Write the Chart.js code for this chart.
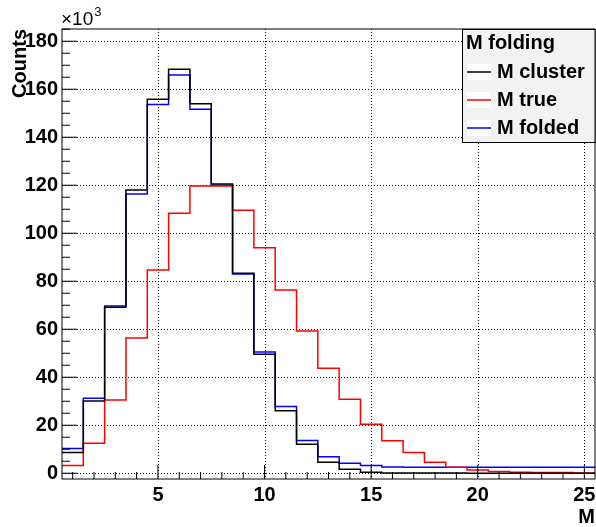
<!DOCTYPE html>
<html>
<head>
<meta charset="utf-8">
<script src="https://cdn.jsdelivr.net/npm/chart.js@4"></script>
<style>
html,body{margin:0;padding:0;background:#fff;}
#wrap{width:596px;height:527px;}
</style>
</head>
<body>
<div id="wrap"><canvas id="c" width="596" height="527"></canvas></div>
<script>
// multiplicity bins (centres), counts in units of 10^3
const bins     = [1,2,3,4,5,6,7,8,9,10,11,12,13,14,15,16,17,18,19,20,21,22,23,24,25];
const mCluster = [8.6,30.1,69.2,118.0,155.8,168.3,154.0,120.5,83.3,49.6,26.0,12.1,4.6,1.7,0.4,0.1,0.1,0.1,0.05,0,0,0,0,0,0];
const mTrue    = [3.2,12.5,30.5,56.4,84.7,108.3,119.7,119.7,109.6,94.0,76.4,59.3,43.7,30.8,20.4,13.5,8.6,4.6,2.5,1.4,0.7,0.4,0.3,0.3,0.1];
const mFolded  = [10.3,31.2,69.7,116.4,153.6,165.9,151.7,120.0,83.0,50.5,27.8,13.6,6.9,4.2,3.2,2.6,2.5,2.5,2.5,2.5,2.5,2.5,2.5,2.5,2.5];

const xTicks = [5,10,15,20,25];
const yTicks = [0,20,40,60,80,100,120,140,160,180];
const xRange = [0.5,25.5];
const yRange = [-2.4,185.1];

const FONT = "'Liberation Sans', Arial, Helvetica, sans-serif";

// histogram outline: one point per low bin edge plus the last upper edge
function steps(vals){
  const pts = bins.map((b,i)=>({x:b-0.5,y:vals[i]}));
  pts.push({x:bins[bins.length-1]+0.5,y:vals[vals.length-1]});
  return pts;
}

const rootFrame = {
  id:'rootFrame',
  beforeDatasetsDraw(chart){
    const {ctx,chartArea:a,scales:{x,y}} = chart;
    ctx.save();
    ctx.strokeStyle='#000'; ctx.lineWidth=1; ctx.setLineDash([1,2]);
    ctx.beginPath();
    xTicks.forEach(v=>{const px=Math.round(x.getPixelForValue(v))+0.5;ctx.moveTo(px,a.top);ctx.lineTo(px,a.bottom);});
    yTicks.forEach(v=>{const py=Math.round(y.getPixelForValue(v))+0.5;ctx.moveTo(a.left,py);ctx.lineTo(a.right,py);});
    ctx.stroke();
    ctx.restore();
  },
  afterDatasetsDraw(chart){
    const {ctx,chartArea:a,scales:{x,y}} = chart;
    ctx.save();
    ctx.strokeStyle='#000'; ctx.lineWidth=1;
    ctx.strokeRect(a.left,a.top,a.right-a.left,a.bottom-a.top);

    // inside tick marks
    ctx.beginPath();
    for(let v=Math.ceil(xRange[0]);v<=xRange[1];v++){
      const px=x.getPixelForValue(v), len=(v%5===0)?14:7;
      ctx.moveTo(px,a.bottom);ctx.lineTo(px,a.bottom-len);
    }
    for(let v=0;v<=yRange[1];v+=5){
      const py=y.getPixelForValue(v), len=(v%20===0)?15:8;
      ctx.moveTo(a.left,py);ctx.lineTo(a.left+len,py);
    }
    ctx.stroke();

    // tick labels
    ctx.fillStyle='#000';
    ctx.font='bold 20px '+FONT;
    ctx.textAlign='right'; ctx.textBaseline='middle';
    yTicks.forEach(v=>ctx.fillText(String(v),a.left-4,y.getPixelForValue(v)));
    ctx.textAlign='center';
    xTicks.forEach(v=>ctx.fillText(String(v),x.getPixelForValue(v),a.bottom+16));

    // axis titles
    ctx.textAlign='right';
    ctx.fillText('M',a.right,a.bottom+38);
    ctx.save();
    ctx.translate(20,a.top);
    ctx.rotate(-Math.PI/2);
    ctx.textAlign='right';
    ctx.fillText('Counts',0,0);
    ctx.restore();

    // exponent
    ctx.font='19px '+FONT;
    ctx.textAlign='left'; ctx.textBaseline='alphabetic';
    ctx.fillText('\u00d710',a.left-1,a.top-4);
    const w=ctx.measureText('\u00d710').width;
    ctx.font='13px '+FONT;
    ctx.fillText('3',a.left+w,a.top-13);

    // legend box
    const lx=462, ly=a.top, lw=a.right-lx, lh=113;
    ctx.fillStyle='#f2f2f2';
    ctx.fillRect(lx,ly,lw,lh);
    ctx.strokeStyle='#000'; ctx.lineWidth=1;
    ctx.strokeRect(lx+0.5,ly+0.5,lw-0.5,lh);
    ctx.fillStyle='#000';
    ctx.font='bold 20px '+FONT;
    ctx.textBaseline='middle';
    ctx.fillText('M folding',lx+4,ly+14);
    chart.data.datasets.forEach((ds,i)=>{
      const cy=ly+43+i*28;
      ctx.fillStyle='#fff';
      ctx.fillRect(lx+5,cy-8,24,16);
      ctx.strokeStyle=ds.borderColor; ctx.lineWidth=1.5;
      ctx.beginPath();ctx.moveTo(lx+5,cy);ctx.lineTo(lx+29,cy);ctx.stroke();
      ctx.fillStyle='#000';
      ctx.fillText(ds.label,lx+35,cy);
    });
    ctx.restore();
  }
};

new Chart(document.getElementById('c'),{
  type:'line',
  data:{datasets:[
    {label:'M cluster',data:steps(mCluster),borderColor:'#000000'},
    {label:'M true',data:steps(mTrue),borderColor:'#ff0000'},
    {label:'M folded',data:steps(mFolded),borderColor:'#0000ff'}
  ].map(d=>Object.assign(d,{stepped:'before',borderWidth:1.5,pointRadius:0,fill:false,tension:0}))},
  options:{
    responsive:false,animation:false,
    layout:{padding:{left:62,top:29,right:1,bottom:48}},
    plugins:{legend:{display:false},tooltip:{enabled:false}},
    scales:{
      x:{type:'linear',display:false,min:xRange[0],max:xRange[1]},
      y:{type:'linear',display:false,min:yRange[0],max:yRange[1]}
    }
  },
  plugins:[rootFrame]
});
</script>
</body>
</html>
